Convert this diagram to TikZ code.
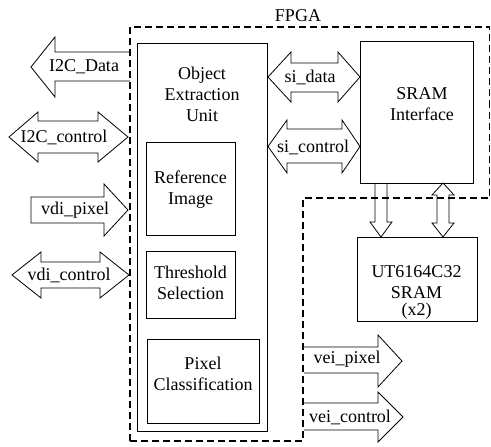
\documentclass[tikz,border=0pt]{standalone}
\usepackage{fontspec}
\setmainfont{Liberation Serif}
\tikzset{
  x=1pt, y=-1pt,
  unitbox/.style={draw, line width=1.3pt, inner sep=0pt},
  blockarrow/.style={draw, line width=0.8pt, line join=miter},
  boundary/.style={draw, line width=1.1pt, dash pattern=on 7pt off 4pt},
  lbl/.style={font=\fontsize{18}{21}\selectfont, align=center, inner sep=0pt}
}
\begin{document}
\begin{tikzpicture}
\useasboundingbox (0,0) rectangle (491,447);

% FPGA boundary
\draw[boundary] (130,441) -- (130,27) -- (489.5,27) -- (489.5,198) -- (303,198) -- (303,441) -- cycle;
\node[lbl] (fpgalbl) at (298,16) {FPGA};

% functional units
\node[unitbox, anchor=north west, minimum width=130pt, minimum height=388pt] (oeu) at (137,43) {};
\node[lbl] (oeulbl) at (202,94) {Object\\Extraction\\Unit};

\node[unitbox, anchor=north west, minimum width=89pt, minimum height=93pt] (refimg) at (146,142) {};
\node[lbl] (refimglbl) at (190.5,190) {Reference\\Image};

\node[unitbox, anchor=north west, minimum width=89pt, minimum height=67pt] (thresh) at (146,251) {};
\node[lbl] (threshlbl) at (190.5,282.5) {Threshold\\Selection};

\node[unitbox, anchor=north west, minimum width=112pt, minimum height=84pt] (pixcls) at (147,339) {};
\node[lbl] (pixclslbl) at (203,374) {Pixel\\Classification};

\node[unitbox, anchor=north west, minimum width=113pt, minimum height=142pt] (srif) at (360,41) {};
\node[lbl] (sriflbl) at (422,104.5) {SRAM\\Interface};

\node[unitbox, anchor=north west, minimum width=120pt, minimum height=84pt] (ut) at (357,237) {};
\node[lbl] (utlbl) at (416.5,292.5) {UT6164C32\\SRAM\\[-4.5pt](x2)};

% external interface arrows (left side)
\draw[blockarrow] (130,52) -- (55,52) -- (55,37) -- (31,67) -- (55,97) -- (55,81) -- (130,81);
\node[lbl] (i2cdata) at (84,67) {I2C\_Data};

\draw[blockarrow] (38,121) -- (98,121) -- (98,112) -- (128,137) -- (98,162) -- (98,153)
  -- (38,153) -- (38,162) -- (9,137) -- (38,112) -- cycle;
\node[lbl] (i2cctrl) at (64,137) {I2C\_control};

\draw[blockarrow] (31,197) -- (104,197) -- (104,184) -- (128,210) -- (104,236) -- (104,223) -- (31,223) -- cycle;
\node[lbl] (vdipix) at (75,210) {vdi\_pixel};

\draw[blockarrow] (41,262) -- (100,262) -- (100,252) -- (129,275) -- (100,298) -- (100,288)
  -- (41,288) -- (41,298) -- (12,275) -- (41,252) -- cycle;
\node[lbl] (vdictrl) at (69,275) {vdi\_control};

% internal buses between the units
\draw[blockarrow] (291,63) -- (338,63) -- (338,52) -- (360,77) -- (338,102) -- (338,92)
  -- (291,92) -- (291,102) -- (268,77) -- (291,52) -- cycle;
\node[lbl] (sidata) at (310,77) {si\_data};

\draw[blockarrow] (287,129) -- (342,129) -- (342,120) -- (360,146.5) -- (342,173) -- (342,163)
  -- (287,163) -- (287,173) -- (268,146.5) -- (287,120) -- cycle;
\node[lbl] (sictrl) at (313,147) {si\_control};

% SRAM buses
\draw[blockarrow] (375,183) -- (375,222) -- (370,222) -- (381,237) -- (392,222) -- (387,222) -- (387,183);
\draw[blockarrow] (437,195) -- (432,195) -- (443,183) -- (454,195) -- (449,195) -- (449,223)
  -- (454,223) -- (443,237) -- (432,223) -- (437,223) -- cycle;

% video encoder outputs
\draw[blockarrow] (304,347) -- (378,347) -- (378,335) -- (402,361) -- (378,387) -- (378,373) -- (304,373);
\node[lbl] (veipix) at (347,359) {vei\_pixel};

\draw[blockarrow] (304,403) -- (378,403) -- (378,392) -- (403,417) -- (378,442) -- (378,430) -- (304,430);
\node[lbl] (veictrl) at (350,417) {vei\_control};
\end{tikzpicture}
\end{document}
